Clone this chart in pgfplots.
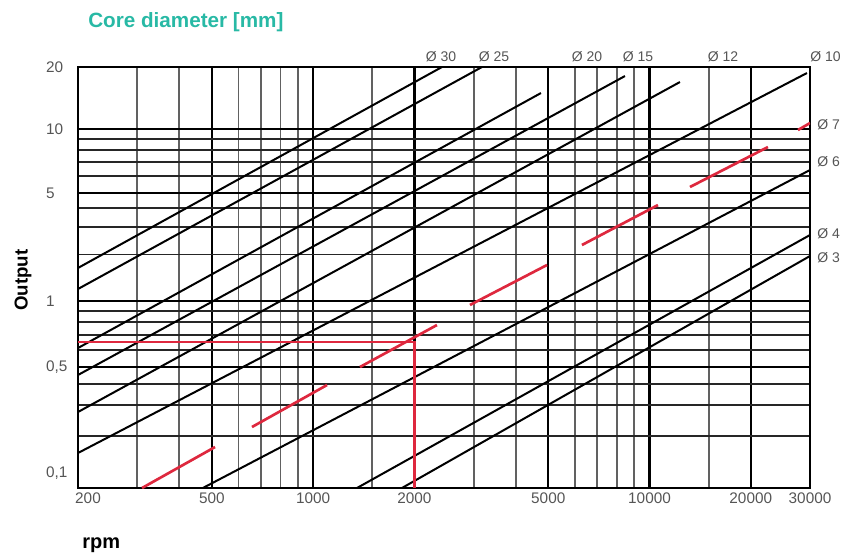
\documentclass[border=0pt]{standalone}
\usepackage{fontspec}
\setmainfont{Liberation Sans}
\usepackage{pgfplots}
\pgfplotsset{compat=1.18}
\definecolor{teal1}{RGB}{40,185,165}
\definecolor{chartred}{RGB}{222,40,62}
\definecolor{lbl}{RGB}{85,85,85}
\begin{document}
\begin{tikzpicture}
\begin{axis}[
  name=ax, at={(0,0)}, anchor=south west,
  scale only axis, width=549pt, height=315.75pt,
  xmode=log, xmin=200, xmax=30000,
  ymin=0.1, ymax=20,
  y coord trafo/.code={%
    \pgfmathfloatparsenumber{#1}\pgfmathfloattosci{\pgfmathresult}\edef\tmpX{\pgfmathresult}%
    \edef\tmpT{\fpeval{ln(\tmpX)/ln(10)}}%
    \edef\pgfmathresult{\fpeval{(\tmpT>=1) ? (-129+(\tmpT-1)*205.96) : ((\tmpT>=0.69897) ? (-193+(\tmpT-0.69897)*212.6) : ((\tmpT>=0) ? (-301+\tmpT*154.51) : ((\tmpT>=-0.30103) ? (-367+(\tmpT+0.30103)*219.25) : (-488+(\tmpT+1)*173.11))))}}%
  },
  xtick={500,1000,2000,5000,10000,20000,30000},
  xticklabels={500,1000,2000,5000,10000,20000,30000},
  minor xtick={300,400,600,700,800,900,1500,3000,4000,6000,7000,8000,9000,15000},
  extra x ticks={200}, extra x tick labels={200},
  extra x tick style={grid=none, xticklabel style={xshift=7.5pt}},
  ytick={0.5,1,5,10,20},
  yticklabels={0{,}5,1,5,10,20},
  minor ytick={0.2,0.3,0.4,0.6,0.7,0.8,0.9,2,3,4,6,7,8,9},
  extra y ticks={0.1}, extra y tick labels={0{,}1},
  extra y tick style={grid=none, yticklabel style={yshift=11pt}},
  yticklabel style={anchor=west, xshift=-27.5pt},
  tick label style={font=\fontsize{11.5}{13}\selectfont, text=lbl},
  major tick length=0pt, minor tick length=0pt,
  grid=both,
  major x grid style={black, line width=1.7pt},
  minor x grid style={black!62, line width=1.4pt},
  major y grid style={black, line width=1.7pt},
  minor y grid style={black!85, line width=1.4pt},
  axis line style={black, line width=2pt},
]
% black diameter lines
\addplot[black, line width=1.5pt] coordinates {(200,1.636) (2416,20)};
\addplot[black, line width=1.5pt] coordinates {(200,1.196) (3177,20)};
\addplot[black, line width=1.5pt] coordinates {(200,0.6104) (4757,14.95)};
\addplot[black, line width=1.5pt] coordinates {(200,0.4496) (8454,18.08)};
\addplot[black, line width=1.5pt] coordinates {(200,0.2748) (12317,16.91)};
\addplot[black, line width=1.5pt] coordinates {(200,0.1593) (29380,18.70)};
\addplot[black, line width=1.5pt] coordinates {(470,0.1) (30000,6.415)};
\addplot[black, line width=1.5pt] coordinates {(1350,0.1) (30000,2.674)};
\addplot[black, line width=1.5pt] coordinates {(1837,0.1) (30000,1.955)};
% red segments
\addplot[chartred, line width=2pt] coordinates {(310,0.1) (511,0.1725)};
\addplot[chartred, line width=2pt] coordinates {(658,0.2251) (1100,0.3936)};
\addplot[chartred, line width=2pt] coordinates {(1378,0.5) (2334,0.777)};
\addplot[chartred, line width=2pt] coordinates {(2926,0.959) (4958,1.710)};
\addplot[chartred, line width=2pt] coordinates {(6298,2.304) (10596,4.18)};
\addplot[chartred, line width=2pt] coordinates {(13192,5.336) (22496,8.229)};
\addplot[chartred, line width=2pt] coordinates {(27623,9.89) (30000,10.69)};
% example reading: 2000 rpm -> 0.65
\addplot[chartred, line width=1.8pt] coordinates {(200,0.65) (2000,0.65) (2000,0.1)};
\end{axis}
\begin{scope}[x=0.75pt,y=-0.75pt,shift={(-78,-488)}]
\node[anchor=base west, inner sep=0, text=teal1, font=\bfseries\fontsize{15.5}{18}\selectfont] at (88,28) {Core diameter [mm]};
\node[rotate=90, inner sep=0, font=\bfseries\fontsize{14}{16}\selectfont] at (23,280) {Output};
\node[anchor=base west, inner sep=0, font=\bfseries\fontsize{15}{18}\selectfont] at (82,548) {rpm};
\begin{scope}[every node/.style={inner sep=0, text=lbl, font=\fontsize{10.5}{12}\selectfont}]
\node[anchor=base] at (441,62) {Ø 30};
\node[anchor=base] at (494,62) {Ø 25};
\node[anchor=base] at (587,62) {Ø 20};
\node[anchor=base] at (638,62) {Ø 15};
\node[anchor=base] at (723,62) {Ø 12};
\node[anchor=base west] at (810,62) {Ø 10};
\node[anchor=base west] at (817,130) {Ø 7};
\node[anchor=base west] at (817,167) {Ø 6};
\node[anchor=base west] at (817,238) {Ø 4};
\node[anchor=base west] at (817,262) {Ø 3};
\end{scope}
\pgfresetboundingbox
\path[use as bounding box] (0,0) rectangle (845,554);
\end{scope}
\end{tikzpicture}
\end{document}
